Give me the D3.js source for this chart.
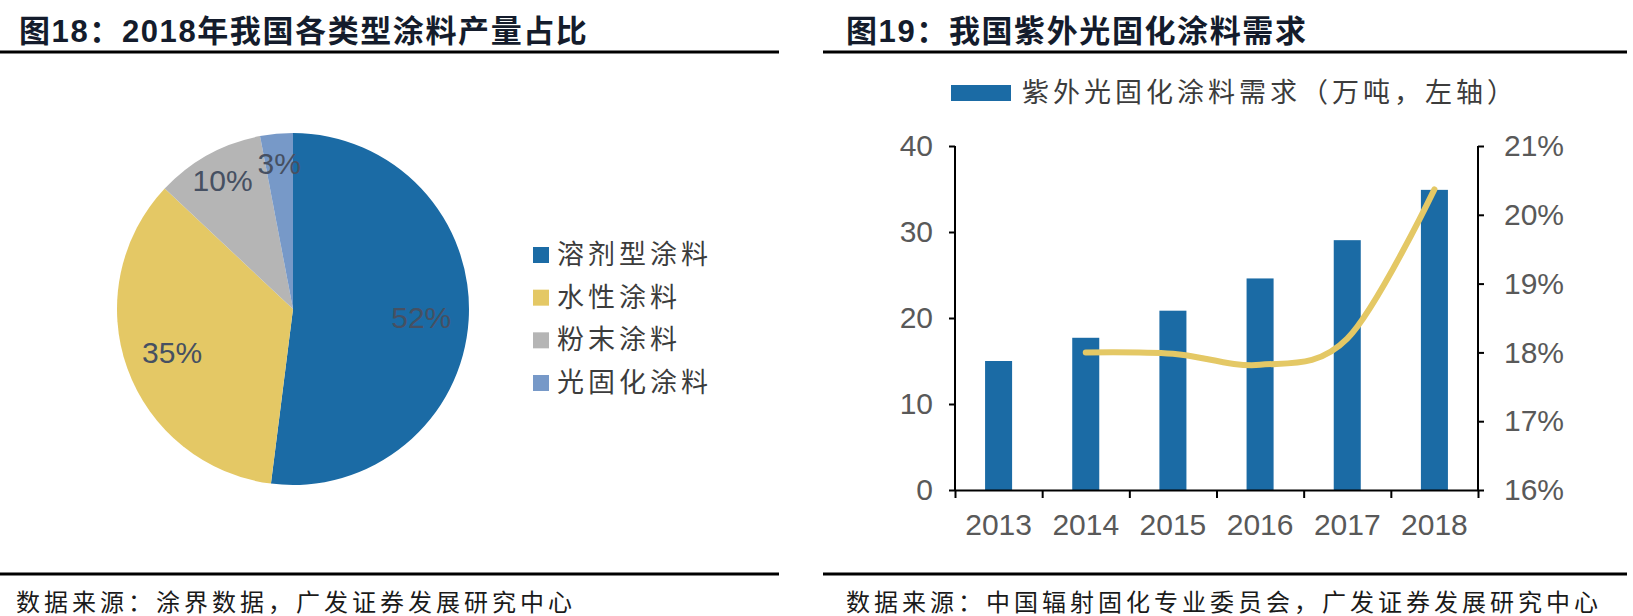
<!DOCTYPE html>
<html lang="zh">
<head>
    <meta charset="UTF-8">
    <title>涂料产量占比与紫外光固化涂料需求</title>
    <script src="https://d3js.org/d3.v7.min.js"></script>
    <style>
        body { margin: 0; background: #fff; }
        svg { display: block; font-family: "Liberation Sans", Arial, "Noto Sans CJK SC", sans-serif; }
        .title { font-size: 31px; font-weight: bold; fill: #141c2c; letter-spacing: 1.6px; }
        .source { font-size: 24px; fill: #1a1a1a; letter-spacing: 4px; }
        .legend { font-size: 27px; fill: #3c3c3c; letter-spacing: 4px; }
        .axis text { font-size: 30px; fill: #595959; font-family: "Liberation Sans", Arial, sans-serif; }
        .axis path, .axis line { stroke: #000; stroke-width: 2px; }
    </style>
</head>
<body>
<div id="chart"></div>
<script>
    // 图18 数据
    const pieCats = ["溶剂型涂料", "水性涂料", "粉末涂料", "光固化涂料"];
    const pieValues = [52, 35, 10, 3];
    const pieColors = ["#1b6ba5", "#e4c865", "#b5b5b5", "#7799c8"];

    // 图19 数据
    const years = ["2013", "2014", "2015", "2016", "2017", "2018"];
    const demand = [15.0, 17.7, 20.85, 24.6, 29.05, 34.9];       // 万吨，左轴
    const share = [null, 18.0, 17.98, 17.82, 18.2, 20.37];       // %，右轴
    const leftTicks = [0, 10, 20, 30, 40];
    const rightTicks = [16, 17, 18, 19, 20, 21];

    const width = 1633, height = 616;
    const svg = d3.select("#chart").append("svg")
        .attr("width", width)
        .attr("height", height);

    // 标题和分隔线
    svg.append("text").attr("class", "title").attr("x", 19).attr("y", 42)
        .text("图18：2018年我国各类型涂料产量占比");
    svg.append("text").attr("class", "title").attr("x", 846).attr("y", 42)
        .text("图19：我国紫外光固化涂料需求");

    [[0, 779], [823, 1627]].forEach(([x1, x2]) => {
        [52, 574].forEach(y => {
            svg.append("line").attr("x1", x1).attr("x2", x2)
                .attr("y1", y).attr("y2", y)
                .attr("stroke", "#000").attr("stroke-width", 3);
        });
    });

    svg.append("text").attr("class", "source").attr("x", 16).attr("y", 611)
        .text("数据来源：涂界数据，广发证券发展研究中心");
    svg.append("text").attr("class", "source").attr("x", 846).attr("y", 611)
        .text("数据来源：中国辐射固化专业委员会，广发证券发展研究中心");

    // ---------- 饼图 ----------
    const cx = 293, cy = 309, r = 176;
    const pie = d3.pie().sort(null).value(d => d);
    const arcs = pie(pieValues);
    const arc = d3.arc().innerRadius(0).outerRadius(r);

    const gPie = svg.append("g").attr("transform", `translate(${cx},${cy})`);
    gPie.selectAll("path")
        .data(arcs)
        .enter()
        .append("path")
        .attr("d", arc)
        .attr("fill", (_, i) => pieColors[i]);

    gPie.selectAll("text")
        .data(arcs)
        .enter()
        .append("text")
        .attr("transform", d => {
            const k = d.data >= 20 ? 0.73 : 0.83;
            const a = d3.arc().innerRadius(r * k).outerRadius(r * k);
            return `translate(${a.centroid(d)})`;
        })
        .attr("text-anchor", "middle")
        .attr("dominant-baseline", "central")
        .attr("font-size", 30)
        .attr("fill", "#465062")
        .text(d => d.data + "%");

    // 饼图图例
    const legY = d3.scaleLinear().domain([0, 3]).range([255, 383]);
    const leg = svg.append("g");
    pieCats.forEach((c, i) => {
        leg.append("rect").attr("x", 533).attr("y", legY(i) - 8)
            .attr("width", 16).attr("height", 16).attr("fill", pieColors[i]);
        leg.append("text").attr("class", "legend").attr("x", 557).attr("y", legY(i))
            .attr("dominant-baseline", "central").text(c);
    });

    // ---------- 柱线图 ----------
    const x0 = 955, x1 = 1478, yTop = 146, yBot = 490;
    const x = d3.scaleBand().domain(years).range([x0, x1])
        .paddingInner(0.69).paddingOuter(0.345);
    const yL = d3.scaleLinear().domain([0, 40]).range([yBot, yTop]);
    const yR = d3.scaleLinear().domain([16, 21]).range([yBot, yTop]);

    svg.selectAll("rect.bar")
        .data(demand)
        .enter()
        .append("rect")
        .attr("class", "bar")
        .attr("x", (_, i) => x(years[i]))
        .attr("y", d => yL(d))
        .attr("width", x.bandwidth())
        .attr("height", d => yBot - yL(d))
        .attr("fill", "#1b6ba5");

    const line = d3.line()
        .defined(d => d != null)
        .x((_, i) => x(years[i]) + x.bandwidth() / 2)
        .y(d => yR(d))
        .curve(d3.curveCardinal.tension(0));

    svg.append("path")
        .datum(share)
        .attr("d", line)
        .attr("fill", "none")
        .attr("stroke", "#e4c865")
        .attr("stroke-width", 6)
        .attr("stroke-linecap", "round");

    // 左轴
    svg.append("g").attr("class", "axis")
        .attr("transform", `translate(${x0},0)`)
        .call(d3.axisLeft(yL).tickValues(leftTicks).tickSize(6).tickSizeOuter(0).tickPadding(16))
        .call(g => g.select(".domain").attr("d", `M0,${yTop}V${yBot}`));

    // 右轴
    svg.append("g").attr("class", "axis")
        .attr("transform", `translate(${x1},0)`)
        .call(d3.axisRight(yR).tickValues(rightTicks).tickFormat(d => d + "%").tickSize(6).tickSizeOuter(0).tickPadding(20))
        .call(g => g.select(".domain").attr("d", `M0,${yTop}V${yBot}`));

    // 横轴：刻度在类别边界，标签在中心
    const xEdge = d3.scaleLinear().domain([0, years.length]).range([x0, x1]);
    svg.append("g").attr("class", "axis")
        .attr("transform", `translate(0,${yBot})`)
        .call(d3.axisBottom(xEdge).tickValues(d3.range(years.length + 1)).tickFormat("").tickSize(8).tickSizeOuter(0));

    svg.append("g").attr("class", "axis")
        .attr("transform", `translate(0,${yBot})`)
        .call(d3.axisBottom(x).tickSize(0).tickPadding(24))
        .call(g => g.select(".domain").remove());

    // 柱图图例
    svg.append("rect").attr("x", 951).attr("y", 85).attr("width", 60).attr("height", 16)
        .attr("fill", "#1b6ba5");
    svg.append("text").attr("class", "legend").attr("x", 1022).attr("y", 93)
        .attr("dominant-baseline", "central")
        .text("紫外光固化涂料需求（万吨，左轴）");
</script>
</body>
</html>
